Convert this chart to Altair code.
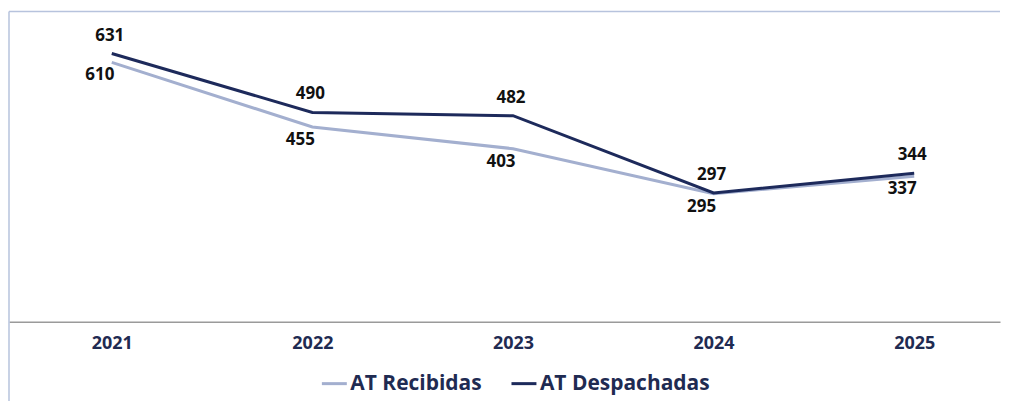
import altair as alt
import pandas as pd

years = ["2021", "2022", "2023", "2024", "2025"]
recibidas = [610, 455, 403, 295, 337]
despachadas = [631, 490, 482, 297, 344]
series = ["AT Recibidas", "AT Despachadas"]
colors = ["#a3afcf", "#1d2a5b"]

rows = []
for y, r, d in zip(years, recibidas, despachadas):
    rows.append({"year": y, "serie": series[0], "value": r})
    rows.append({"year": y, "serie": series[1], "value": d})
df = pd.DataFrame(rows)

FONT = "Open Sans"
NAVY = "#1f2b52"
BORDER = "#b7c3dd"
W, H = 993, 391

x_enc = alt.X("year:O", sort=years, title=None,
              scale=alt.Scale(type="point", padding=0.47, align=0.545),
              axis=alt.Axis(labelAngle=0, ticks=False, domainColor="#9a9a9a",
                            domainWidth=1.5, offset=-80, labelPadding=13,
                            labelFont=FONT, labelFontSize=18, labelFontWeight="bold",
                            labelColor=NAVY, grid=False))
y_enc = alt.Y("value:Q", title=None, axis=None,
              scale=alt.Scale(domain=[-203, 732], nice=False, zero=False))

base = alt.Chart(df)

lines = base.mark_line(strokeWidth=3).encode(
    x=x_enc, y=y_enc,
    color=alt.Color("serie:N", scale=alt.Scale(domain=series, range=colors),
                    legend=alt.Legend(title=None, orient="none", direction="horizontal",
                                      legendX=312, legendY=359,
                                      symbolType="stroke", symbolSize=625,
                                      symbolStrokeWidth=3, labelOffset=2,
                                      columnPadding=23, labelFont=FONT,
                                      labelFontSize=21, labelFontWeight="bold",
                                      labelColor=NAVY, labelLimit=400)),
    order=alt.Order("serie_order:Q"),
    detail="serie:N",
).transform_calculate(serie_order="datum.serie == 'AT Recibidas' ? 0 : 1")

text_rec = base.transform_filter(alt.datum.serie == series[0]).mark_text(
    font=FONT, fontSize=17, fontWeight="bold", color="#111111", dx=-12, dy=13
).encode(x=alt.X("year:O", sort=years), y="value:Q", text="value:Q")

text_des = base.transform_filter(alt.datum.serie == series[1]).mark_text(
    font=FONT, fontSize=17, fontWeight="bold", color="#111111", dx=-2, dy=-18
).encode(x=alt.X("year:O", sort=years), y="value:Q", text="value:Q")

frame = alt.Chart(pd.DataFrame({"k": [0]}))
top_border = frame.mark_rule(color=BORDER, strokeWidth=1.5).encode(
    x=alt.value(0), x2=alt.value(W), y=alt.value(0))
left_border = frame.mark_rule(color=BORDER, strokeWidth=1.5).encode(
    x=alt.value(0), y=alt.value(0), y2=alt.value(H))

chart = alt.layer(top_border, left_border, lines, text_rec, text_des).properties(
    width=W, height=H,
    padding={"left": 0, "top": 2, "right": 0, "bottom": 0},
).configure(background="white").configure_view(stroke="transparent", strokeWidth=0)

chart.save("out.html", embed_options={"renderer": "svg", "actions": False})
